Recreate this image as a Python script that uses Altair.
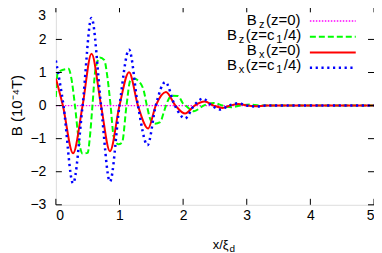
import altair as alt
import pandas as pd

# ---- data ----
bz0_x = [0.0, 5.0]
bz0_y = [0.0, 0.0]

bzc_x = [0, 0.03, 0.2, 0.24, 0.3, 0.36, 0.42, 0.5, 0.53, 0.575,
         0.62, 0.69, 0.76, 0.81, 0.86, 0.91, 0.98, 1.04, 1.11, 1.17,
         1.24, 1.3, 1.38, 1.43, 1.49, 1.55, 1.64, 1.69, 1.73, 1.82,
         1.92, 2.0, 2.04, 2.17, 2.32, 2.48, 2.62, 2.76, 2.9, 3.05,
         3.2, 3.4, 3.7, 4.0, 4.5, 5.0]
bzc_y = [0.26, 1.01, 1.11, 0.86, 0, -1.04, -1.45, -1.43, -1.04, 0,
         1.06, 1.45, 1.38, 0.86, 0, -0.95, -1.17, -1.12, 0, 0.76,
         0.81, 0.74, 0.46, 0, -0.44, -0.55, -0.50, -0.24, 0, 0.30,
         0.29, 0.06, 0, -0.17, 0, 0.08, 0, -0.05, 0, 0.03,
         0, 0, 0, 0, 0, 0]

bx0_x = [0, 0.11, 0.27, 0.42, 0.56, 0.71, 0.85, 1.0, 1.15, 1.29,
         1.45, 1.57, 1.73, 1.88, 2.03, 2.18, 2.34, 2.48, 2.62, 2.74,
         2.87, 3.0, 3.15, 3.3, 3.5, 4.0, 4.5, 5.0]
bx0_y = [0.82, 0, -1.44, 0, 1.57, 0, -1.38, 0, 1.01, 0,
         -0.69, 0, 0.41, 0, -0.24, 0, 0.12, 0, -0.07, 0,
         0.05, 0, -0.02, 0, 0, 0, 0, 0]

bxc_x = [0, 0.12, 0.27, 0.42, 0.56, 0.71, 0.85, 1.0, 1.15, 1.29,
         1.44, 1.57, 1.72, 1.87, 2.03, 2.17, 2.31, 2.45, 2.58, 2.72,
         2.87, 3.0, 3.15, 3.3, 3.5, 4.0, 4.5, 5.0]
bxc_y = [1.36, 0, -2.35, 0, 2.65, 0, -2.30, 0, 1.69, 0,
         -1.20, 0, 0.71, 0, -0.39, 0, 0.21, 0, -0.12, 0,
         0.07, 0, -0.03, 0, 0, 0, 0, 0]

x_ticks = [0, 1, 2, 3, 4, 5]
y_ticks = [-3, -2, -1, 0, 1, 2, 3]

# legend texts: main, subscript, rest (, subscript, rest)
legend_rows = [
    ["B", "z", "(z=0)"],
    ["B", "z", "(z=c", "1", "/4)"],
    ["B", "x", "(z=0)"],
    ["B", "x", "(z=c", "1", "/4)"],
]
y_title = "B (10⁻⁴T)"
x_title = ["x/ξ", "d"]

# ---- layout / style ----
W, H = 319, 199
FONT = "Liberation Sans"
xsc = alt.Scale(domain=[0, 5], nice=False, zero=False)
ysc = alt.Scale(domain=[-3, 3], nice=False, zero=False)
xaxis = alt.Axis(values=x_ticks, format="d", title=None, grid=False, ticks=False,
                 domain=False, labelFont=FONT, labelFontSize=14, labelColor="black",
                 labelPadding=4)
yaxis = alt.Axis(values=y_ticks[:-1], format="d", title=None, grid=False, ticks=False,
                 domain=False, labelFont=FONT, labelFontSize=14, labelColor="black",
                 labelPadding=10)

styles = [
    dict(color="#ff00ff", strokeWidth=1.3, strokeDash=[1.5, 1.5]),
    dict(color="#00ff00", strokeWidth=2, strokeDash=[6, 3]),
    dict(color="#ff0000", strokeWidth=2),
    dict(color="#0000ff", strokeWidth=2.5, strokeDash=[2.2, 3.6]),
]

series = [(bz0_x, bz0_y), (bzc_x, bzc_y), (bx0_x, bx0_y), (bxc_x, bxc_y)]

layers = []
for (xs, ys), st in zip(series, styles):
    df = pd.DataFrame({"x": xs, "y": ys})
    layers.append(
        alt.Chart(df).mark_line(interpolate="monotone", clip=True, **st).encode(
            x=alt.X("x:Q", scale=xsc, axis=xaxis),
            y=alt.Y("y:Q", scale=ysc, axis=yaxis),
        )
    )

# inward ticks (gnuplot style, mirrored)
tx = pd.DataFrame({"x": x_ticks})
ty = pd.DataFrame({"y": y_ticks})
TL = 6
for y0, y1 in [(H - TL, H), (0, TL)]:
    layers.append(alt.Chart(tx).mark_rule(color="black", strokeWidth=1).encode(
        x=alt.X("x:Q", scale=xsc, axis=xaxis), y=alt.value(y0), y2=alt.value(y1)))
for x0, x1 in [(0, TL), (W - TL, W)]:
    layers.append(alt.Chart(ty).mark_rule(color="black", strokeWidth=1).encode(
        y=alt.Y("y:Q", scale=ysc, axis=yaxis), x=alt.value(x0), x2=alt.value(x1)))

# top y label drawn separately so it is not clipped at the page edge
top_lab = pd.DataFrame({"y": [y_ticks[-1]], "t": [str(y_ticks[-1])]})
layers.append(alt.Chart(top_lab).mark_text(
    align="right", baseline="top", font=FONT, fontSize=14, color="black", dx=-10, dy=3
).encode(y=alt.Y("y:Q", scale=ysc, axis=yaxis), x=alt.value(0), text="t:N"))

one = pd.DataFrame({"a": [0]})

def txt(text, x, y, size, align="left", angle=0, baseline="alphabetic"):
    return alt.Chart(one).mark_text(text=text, align=align, baseline=baseline,
                                    font=FONT, fontSize=size, color="black",
                                    angle=angle).encode(x=alt.value(x), y=alt.value(y))

# legend (positions in plot-area pixels)
LFS, SFS = 15, 11
piece_x = {3: [191.5, 203.6, 210.8], 5: [171.5, 183.5, 190.4, 221.0, 228.5]}
base_y = [18.3, 33.8, 49.0, 64.3]
line_y = [14.7, 30.6, 46.2, 61.6]
for i, (pieces, st) in enumerate(zip(legend_rows, styles)):
    xs = piece_x[len(pieces)]
    for j, (text, px) in enumerate(zip(pieces, xs)):
        sub = j % 2 == 1
        layers.append(txt(text, px, base_y[i] + (3 if sub else 0), SFS if sub else LFS))
    layers.append(alt.Chart(one).mark_rule(**st).encode(
        x=alt.value(254.7), x2=alt.value(300.7), y=alt.value(line_y[i])))

# axis titles
layers.append(txt(y_title, -39.0, H / 2, 15, align="center", angle=270,
                  baseline="middle"))
layers.append(txt(x_title[0], 157.3, 243.5, 13, align="left"))
layers.append(txt(x_title[1], 157.3 + 1.3 * 13, 246.5, 10, align="left"))

chart = alt.layer(*layers).properties(
    width=W, height=H,
    autosize=alt.AutoSizeParams(type="none"),
    padding={"left": 48, "top": -2, "right": 0, "bottom": 56},
).configure_view(stroke="black", strokeWidth=1).configure(background="white")

chart.save("out.html", embed_options={"renderer": "svg", "actions": False})
